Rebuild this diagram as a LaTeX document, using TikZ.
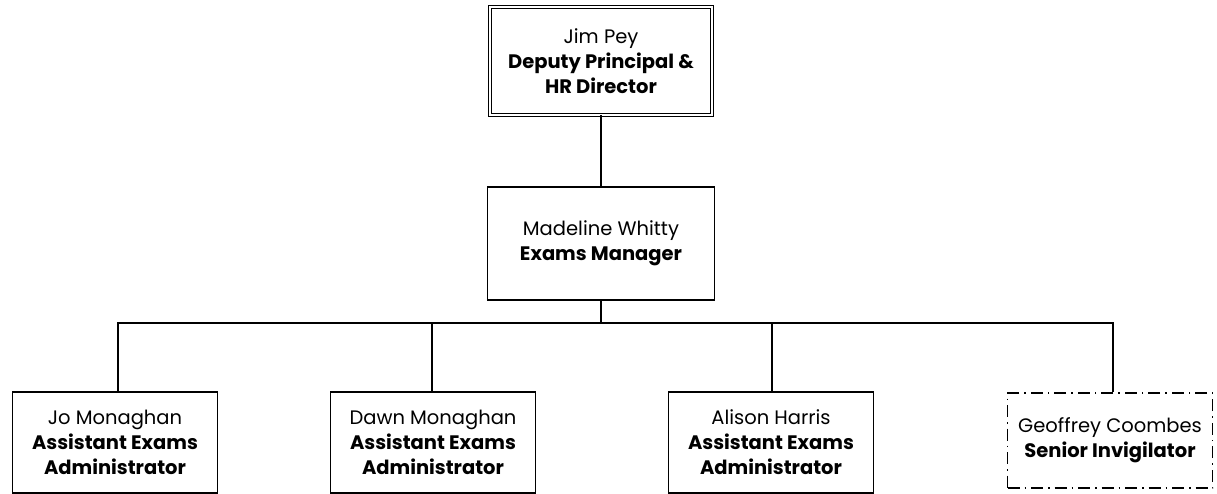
\documentclass[tikz,border=0pt]{standalone}
\usepackage{fontspec}
\setmainfont{Poppins}
\begin{document}
\begin{tikzpicture}[x=1pt,y=-1pt,
  box/.style={draw=black,line width=1.5pt,minimum width=#1,inner sep=0pt,align=center,font=\fontsize{19.5}{25}\selectfont},
  box/.default=205pt,
  conn/.style={draw=black,line width=1.5pt}]
\useasboundingbox (0,0) rectangle (1217,494);
\node[box=222pt,minimum height=108pt,double,double distance=2pt,line width=1pt] (top) at (601,61) {Jim Pey\\\textbf{Deputy Principal \&}\\\textbf{HR Director}};
\node[box=227pt,minimum height=113pt] (mid) at (601,243.5) {Madeline Whitty\\\textbf{Exams Manager}};
\node[box,minimum height=101pt] (b1) at (115,442.5) {Jo Monaghan\\\textbf{Assistant Exams}\\\textbf{Administrator}};
\node[box,minimum height=101pt] (b2) at (433,442.5) {Dawn Monaghan\\\textbf{Assistant Exams}\\\textbf{Administrator}};
\node[box,minimum height=101pt] (b3) at (771,442.5) {Alison Harris\\\textbf{Assistant Exams}\\\textbf{Administrator}};
\node[box,minimum height=95pt,dash pattern=on 12pt off 5pt on 1.5pt off 5pt] (b4) at (1110,440.5) {Geoffrey Coombes\\\textbf{Senior Invigilator}};
\coordinate (bus) at (601,323);
\draw[conn] (top.south) -- (mid.north);
\draw[conn] (mid.south) -- (bus);
\draw[conn] (b1.north -| 118,0) |- (bus);
\draw[conn] (b2.north -| 432,0) |- (bus);
\draw[conn] (b3.north -| 772,0) |- (bus);
\draw[conn] (b4.north -| 1113,0) |- (bus);
\end{tikzpicture}
\end{document}
